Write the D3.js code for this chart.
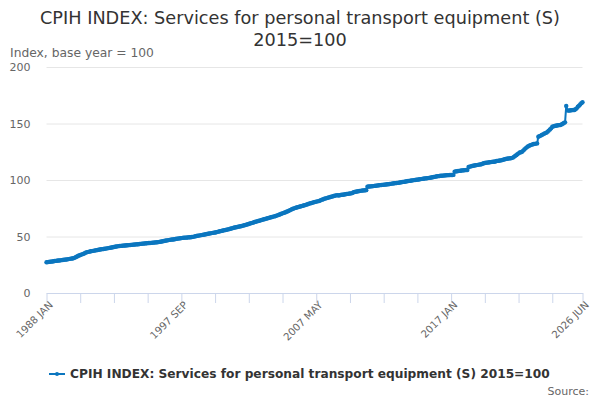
<!DOCTYPE html>
<html>
<head>
<meta charset="utf-8">
<script src="https://cdn.jsdelivr.net/npm/d3@7"></script>
<style>
  body { margin: 0; background: #fff; }
  text { font-family: "DejaVu Sans", Verdana, sans-serif; }
</style>
</head>
<body>
<div id="chart"></div>
<script>
// === data (monthly index, 1988 JAN .. 2026 JUN) ===
const startYear = 1988, monthNames = ["JAN","FEB","MAR","APR","MAY","JUN","JUL","AUG","SEP","OCT","NOV","DEC"];

const values1988_1997 = [
  27.2, 27.3, 27.5, 27.6, 27.8, 27.9, 28.1, 28.3, 28.4, 28.6, 28.7, 28.8,
  28.9, 29.1, 29.2, 29.4, 29.5, 29.7, 29.8, 30.0, 30.2, 30.4, 30.5, 30.7,
  31.1, 31.6, 32.1, 32.7, 33.2, 33.6, 34.0, 34.4, 34.8, 35.3, 35.8, 36.2,
  36.4, 36.6, 36.9, 37.1, 37.3, 37.5, 37.7, 37.9, 38.1, 38.3, 38.5, 38.7,
  38.8, 39.0, 39.2, 39.3, 39.5, 39.7, 39.9, 40.1, 40.3, 40.5, 40.7, 40.9,
  41.1, 41.3, 41.5, 41.6, 41.7, 41.8, 41.9, 42.0, 42.1, 42.2, 42.3, 42.4,
  42.5, 42.6, 42.7, 42.8, 42.9, 43.0, 43.1, 43.2, 43.4, 43.5, 43.6, 43.7,
  43.8, 43.9, 44.0, 44.1, 44.2, 44.3, 44.4, 44.5, 44.6, 44.7, 44.8, 44.9,
  45.0, 45.2, 45.4, 45.6, 45.8, 46.0, 46.2, 46.4, 46.6, 46.8, 47.0, 47.2,
  47.3, 47.4, 47.6, 47.8, 48.0, 48.1, 48.3, 48.4, 48.6, 48.8, 48.9, 49.0
];
const values1998_2007 = [
  49.0, 49.1, 49.2, 49.3, 49.3, 49.5, 49.7, 49.9, 50.2, 50.4, 50.6, 50.8,
  51.0, 51.2, 51.4, 51.6, 51.8, 52.0, 52.2, 52.4, 52.6, 52.8, 53.0, 53.2,
  53.4, 53.6, 53.8, 54.1, 54.3, 54.6, 54.8, 55.1, 55.3, 55.6, 55.8, 56.0,
  56.3, 56.5, 56.8, 57.1, 57.4, 57.7, 57.9, 58.2, 58.4, 58.7, 58.9, 59.1,
  59.3, 59.6, 59.9, 60.2, 60.5, 60.8, 61.1, 61.5, 61.8, 62.1, 62.4, 62.8,
  63.1, 63.4, 63.7, 64.0, 64.3, 64.6, 64.9, 65.2, 65.5, 65.8, 66.1, 66.4,
  66.7, 67.0, 67.3, 67.6, 67.8, 68.1, 68.5, 68.9, 69.3, 69.7, 70.1, 70.5,
  70.9, 71.3, 71.7, 72.1, 72.6, 73.1, 73.6, 74.1, 74.5, 74.9, 75.3, 75.6,
  75.9, 76.2, 76.5, 76.8, 77.1, 77.4, 77.7, 78.0, 78.3, 78.8, 79.1, 79.4,
  79.7, 80.0, 80.3, 80.6, 80.9, 81.1, 81.3, 81.7, 82.2, 82.6, 83.0, 83.4
];
const values2008_2017 = [
  83.7, 84.0, 84.3, 84.6, 84.9, 85.2, 85.5, 85.8, 86.1, 86.4, 86.6, 86.3,
  86.5, 86.7, 86.9, 87.0, 87.2, 87.4, 87.6, 87.7, 87.9, 88.1, 88.2, 88.4,
  89.2, 89.4, 89.6, 89.8, 90.0, 90.2, 90.4, 90.6, 90.7, 90.8, 90.9, 91.0,
  94.1, 94.2, 94.3, 94.4, 94.5, 94.6, 94.8, 94.9, 95.0, 95.2, 95.3, 95.5,
  95.6, 95.7, 95.8, 95.9, 96.0, 96.2, 96.3, 96.5, 96.6, 96.8, 96.9, 97.1,
  97.2, 97.4, 97.5, 97.6, 97.8, 98.0, 98.2, 98.3, 98.5, 98.7, 98.9, 99.1,
  99.2, 99.4, 99.6, 99.7, 99.9, 100.0, 100.2, 100.3, 100.5, 100.7, 100.8, 101.0,
  101.1, 101.3, 101.4, 101.6, 101.7, 101.9, 102.0, 102.2, 102.4, 102.6, 102.8, 103.1,
  103.3, 103.4, 103.6, 103.7, 103.8, 103.9, 104.0, 104.1, 104.2, 104.3, 104.3, 104.4,
  104.4, 104.4, 104.5, 107.4, 107.6, 107.8, 108.0, 108.1, 108.2, 108.4, 108.5, 108.6
];
const values2018_2026 = [
  108.7, 108.8, 108.9, 111.5, 111.8, 112.1, 112.4, 112.6, 112.8, 113.0, 113.2, 113.4,
  113.6, 113.8, 114.0, 114.4, 114.8, 115.0, 115.2, 115.4, 115.5, 115.7, 115.8, 116.0,
  116.1, 116.2, 116.4, 116.8, 116.9, 117.0, 117.2, 117.4, 117.7, 118.0, 118.3, 118.6,
  118.8, 119.0, 119.1, 119.2, 119.4, 119.8, 120.5, 121.2, 122.0, 122.8, 123.6, 124.3,
  124.5, 125.0, 126.0, 127.0, 128.0, 128.9, 129.6, 130.2, 130.7, 131.1, 131.5, 131.8,
  132.0, 132.2, 132.4, 138.3, 138.8, 139.3, 139.8, 140.4, 141.0, 141.5, 141.9, 142.8,
  143.7, 144.8, 145.7, 147.2, 147.5, 147.8, 148.0, 148.2, 148.4, 148.6, 148.7, 149.2,
  149.8, 150.4, 151.0, 165.5, 161.6, 161.4, 161.5, 161.7, 161.8, 161.9, 162.0, 162.6,
  163.4, 164.9, 165.8, 166.8, 168.0, 168.8
];

const yTicks = [0, 50, 100, 150, 200];
const labelEvery = 116, tickEvery = 29;

const seriesName = "CPIH INDEX: Services for personal transport equipment (S) 2015=100";
const titleLines = ["CPIH INDEX: Services for personal transport equipment (S)", "2015=100"];

// build the table
const values = [...values1988_1997, ...values1998_2007, ...values2008_2017, ...values2018_2026];
const categories = values.map((v, i) => `${startYear + Math.floor(i / 12)} ${monthNames[i % 12]}`);
const data = values.map((v, i) => ({cat: categories[i], value: v}));

// === layout ===
const width = 600, height = 400;
const plot = {left: 46.5, right: 582.5, top: 67, bottom: 293};
const lineColor = "#0b76bf";

const svg = d3.select("#chart").append("svg")
    .attr("width", width).attr("height", height);

const x = d3.scalePoint().domain(categories).range([plot.left, plot.right]);
const y = d3.scaleLinear().domain([0, 200]).range([plot.bottom, plot.top]);

// title
svg.append("g").selectAll("text")
    .data(titleLines)
    .join("text")
    .attr("x", width / 2)
    .attr("y", (d, i) => 24 + i * 22)
    .attr("text-anchor", "middle")
    .attr("font-size", 17.7)
    .attr("fill", "#333")
    .text(d => d);

svg.append("text")
    .attr("x", 10).attr("y", 57)
    .attr("font-size", 12.3).attr("fill", "#666")
    .text("Index, base year = 100");

// gridlines + y labels
const yAxis = svg.append("g")
    .attr("transform", `translate(${plot.left},0)`)
    .call(d3.axisLeft(y).tickValues(yTicks).tickSize(-(plot.right - plot.left)).tickPadding(16));
yAxis.select(".domain").remove();
yAxis.selectAll(".tick line").attr("stroke", "#e6e6e6");
yAxis.selectAll(".tick text")
    .attr("font-family", "DejaVu Sans").attr("font-size", 11).attr("fill", "#666");

// x axis
const tickCats = categories.filter((c, i) => i % tickEvery === 0 || i === categories.length - 1);
const labelCats = categories.filter((c, i) => i % labelEvery === 0 || i === categories.length - 1);

const xAxis = svg.append("g")
    .attr("transform", `translate(0,${plot.bottom})`)
    .call(d3.axisBottom(x).tickValues(tickCats).tickSize(10).tickSizeOuter(0)
        .tickFormat(d => labelCats.includes(d) ? d : ""));
xAxis.select(".domain").attr("stroke", "#ccd6eb");
xAxis.selectAll(".tick line").attr("stroke", "#ccd6eb");
xAxis.selectAll(".tick text")
    .attr("font-family", "DejaVu Sans").attr("font-size", 10.2).attr("fill", "#666")
    .attr("text-anchor", "end")
    .attr("transform", "translate(4,10) rotate(-45)")
    .attr("dy", "0.35em").attr("y", 0);

// series
const line = d3.line().x(d => x(d.cat)).y(d => y(d.value));
svg.append("path").datum(data)
    .attr("fill", "none").attr("stroke", lineColor).attr("stroke-width", 2)
    .attr("stroke-linejoin", "round")
    .attr("d", line);

svg.append("g").selectAll("circle")
    .data(data)
    .join("circle")
    .attr("cx", d => x(d.cat)).attr("cy", d => y(d.value))
    .attr("r", 2.2).attr("fill", lineColor);

// legend
const legend = svg.append("g").attr("transform", "translate(49,374)");
legend.append("line").attr("x1", 0).attr("x2", 16)
    .attr("stroke", lineColor).attr("stroke-width", 2);
legend.append("circle").attr("cx", 8).attr("r", 2).attr("fill", lineColor);
legend.append("text").attr("x", 21).attr("dy", "0.35em")
    .attr("font-size", 12.2).attr("font-weight", "bold").attr("fill", "#333")
    .text(seriesName);

svg.append("text")
    .attr("x", 589).attr("y", 395)
    .attr("text-anchor", "end").attr("font-size", 11).attr("fill", "#666")
    .text("Source:");
</script>
</body>
</html>
